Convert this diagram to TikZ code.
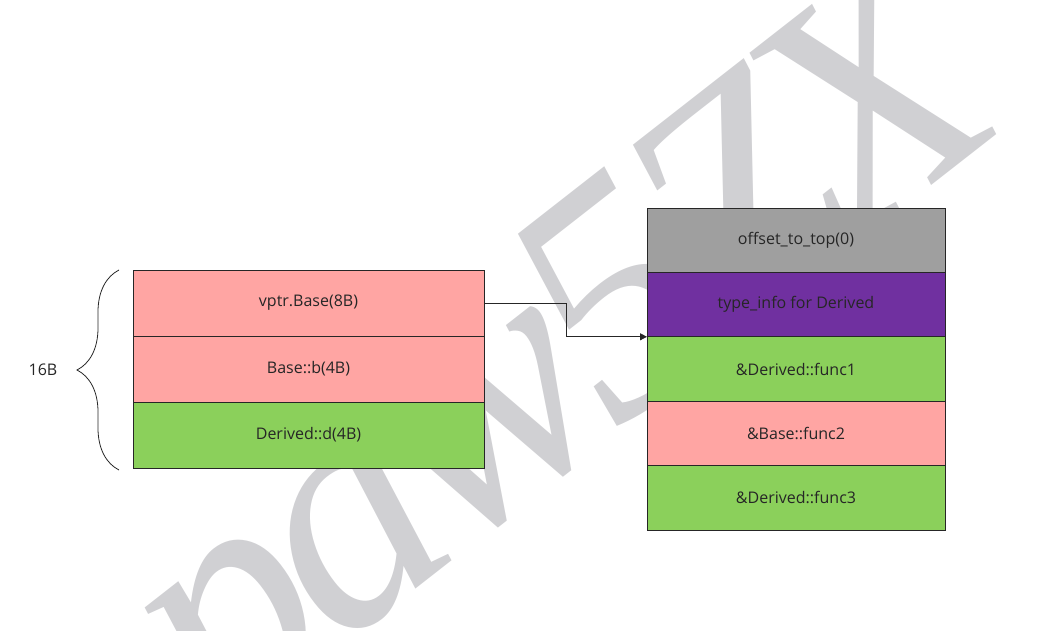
\documentclass[tikz,border=0pt]{standalone}
\usepackage{fontspec}
\setmainfont{Open Sans}
\newfontfamily\wmfont{Liberation Serif}
\usepackage{tikz}
\usetikzlibrary{positioning, arrows.meta, decorations.pathreplacing, calc}
\usepackage{xcolor}

\definecolor{slotpink}{RGB}{255,165,163}
\definecolor{slotgreen}{RGB}{139,208,91}
\definecolor{slotgray}{RGB}{159,159,159}
\definecolor{slotpurple}{RGB}{112,48,160}
\definecolor{wmgray}{RGB}{208,208,211}

\begin{document}
\begin{tikzpicture}[
    x=1pt, y=-1pt,
    node distance=0pt,
    font=\fontsize{16}{19}\selectfont,
    every node/.style={text=black!85},
    slot/.style={draw=black!85, line width=0.8pt, rectangle, outer sep=0pt, minimum width=351pt, minimum height=66pt},
    vslot/.style={slot, minimum width=298pt, minimum height=64.4pt},
    ptr/.style={-{Triangle[length=7pt,width=7pt]}, line width=0.8pt, draw=black!85}
]
    \useasboundingbox (0,0) rectangle (1058,631);
    % watermark behind everything
    \node[text=wmgray, rotate=38, font=\wmfont\itshape\fontsize{330}{330}\selectfont] (watermark) at (572,374)
        {p\kern-.05em a\kern-.05em w\kern-.05em 5\kern-.06em Z\kern-.08em X};

    % object layout of Derived
    \node[slot, fill=slotpink] (vptr) at (308.5,303) {vptr.Base(8B)};
    \node[slot, fill=slotpink, below=of vptr] (baseb) {Base::b(4B)};
    \node[slot, fill=slotgreen, below=of baseb] (derivedd) {Derived::d(4B)};

    % vtable of Derived
    \node[vslot, fill=slotgray] (offset) at (796,240.2) {offset\_to\_top(0)};
    \node[vslot, fill=slotpurple, below=of offset] (typeinfo) {type\_info for Derived};
    \node[vslot, fill=slotgreen, below=of typeinfo] (dfunc1) {\&Derived::func1};
    \node[vslot, fill=slotpink, below=of dfunc1] (bfunc2) {\&Base::func2};
    \node[vslot, fill=slotgreen, below=of bfunc2] (dfunc3) {\&Derived::func3};

    \draw[ptr] (vptr.east) -- ++(82,0) |- (typeinfo.south west);

    % size brace
    \draw[line width=0.8pt, draw=black!85, decorate, decoration={brace, amplitude=42pt}]
        ($(derivedd.south west)+(-14,2)$) -- ($(vptr.north west)+(-14,0)$)
        node[midway, left=58pt] (size) {16B};
\end{tikzpicture}
\end{document}
